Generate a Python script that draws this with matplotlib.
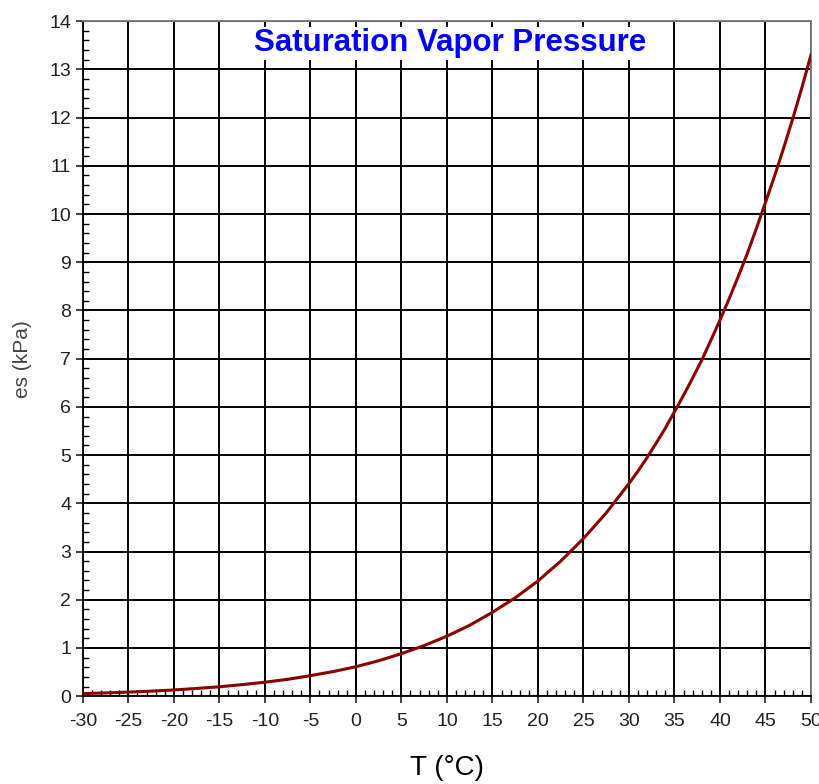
import matplotlib
matplotlib.use("Agg")
import matplotlib.pyplot as plt
from matplotlib.ticker import MultipleLocator

plt.rcParams['font.family'] = ['Liberation Sans', 'DejaVu Sans']
plt.rcParams['axes.unicode_minus'] = False

# temperature (degC) and saturation vapour pressure (kPa)
temp_c = [-30, -27.5, -25, -22.5, -20, -17.5, -15, -12.5, -10, -7.5, -5, -2.5,
          0, 2.5, 5, 7.5, 10, 12.5, 15, 17.5, 20, 22.5, 25, 27.5,
          30, 31, 32, 33, 34, 35, 36, 37, 38, 39, 40,
          41, 42, 43, 44, 45, 46, 47, 48, 49, 50]
es_kpa = [0.053, 0.068, 0.084, 0.105, 0.129, 0.16, 0.195, 0.24, 0.29, 0.35, 0.426, 0.51,
          0.611, 0.735, 0.882, 1.05, 1.245, 1.47, 1.74, 2.04, 2.39, 2.80, 3.27, 3.80,
          4.41, 4.67, 4.95, 5.25, 5.56, 5.90, 6.24, 6.60, 6.97, 7.38, 7.80,
          8.24, 8.70, 9.18, 9.70, 10.24, 10.79, 11.37, 11.98, 12.62, 13.3]

x_ticks = list(range(-30, 51, 5))
y_ticks = list(range(0, 15))

fig = plt.figure(figsize=(8.2, 7.84), dpi=100)
ax = fig.add_axes([0.101, 0.112, 0.888, 0.861])

ax.plot(temp_c, es_kpa, color='#8b0000', lw=2.2, zorder=3)

ax.set_xlim(-30, 50)
ax.set_ylim(0, 14)
ax.set_xticks(x_ticks)
ax.set_yticks(y_ticks)
ax.xaxis.set_minor_locator(MultipleLocator(1))
ax.yaxis.set_minor_locator(MultipleLocator(0.2))
ax.grid(True, which='major', color='black', lw=1.4, zorder=1)
ax.tick_params(which='major', direction='out', length=5, width=1.2,
               labelsize=14, colors='#222222')
ax.tick_params(which='minor', direction='in', length=4, width=1)
ax.tick_params(axis='x', pad=7)
for s in ax.spines.values():
    s.set_color('#777777')
    s.set_linewidth(1.3)
ax.spines['left'].set_color('black')
ax.spines['bottom'].set_color('black')

ax.text(0.504, 0.967, 'Saturation Vapor Pressure', transform=ax.transAxes,
        ha='center', va='center', color='#0000ff', fontsize=22.5, fontweight='bold',
        zorder=4, bbox=dict(facecolor='white', edgecolor='none', pad=1))

ax.set_xlabel('T (°C)', fontsize=20, labelpad=18)
ax.set_ylabel('es (kPa)', fontsize=15, color='#444444', labelpad=12)

fig.savefig('out.png', dpi=100)
